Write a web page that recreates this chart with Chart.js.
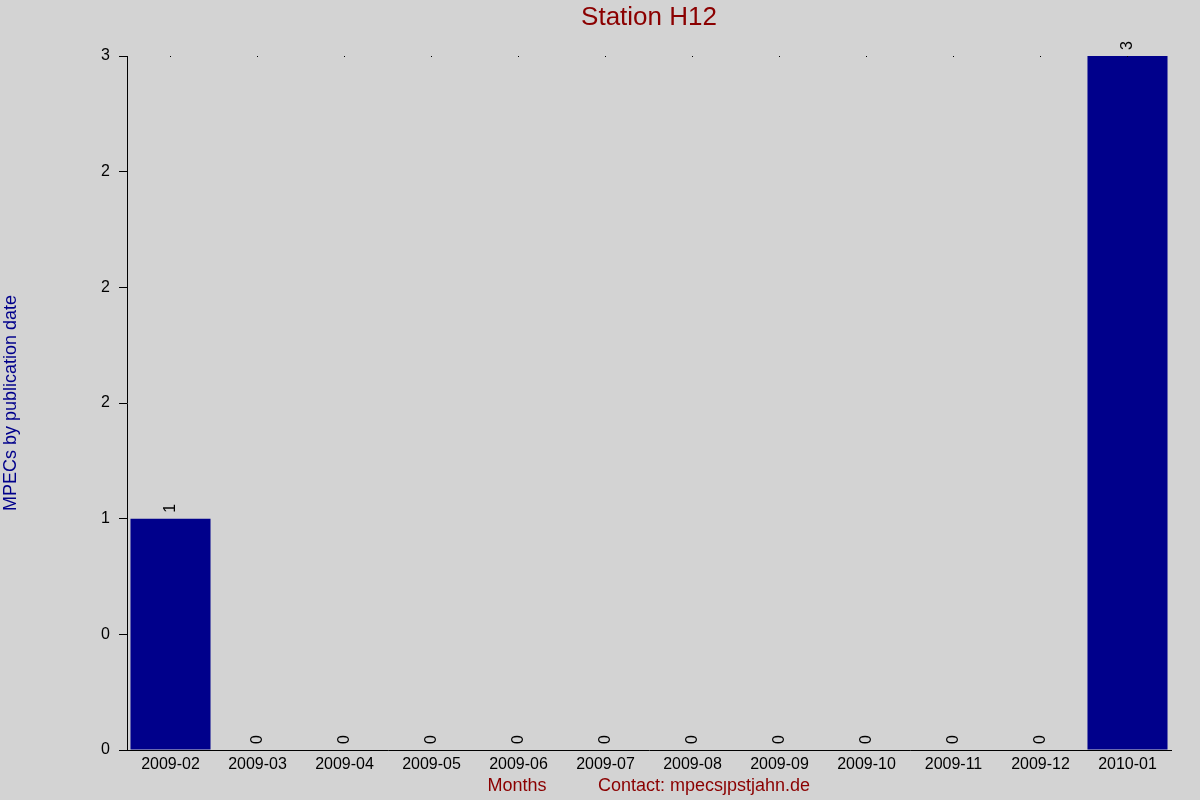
<!DOCTYPE html>
<html>
<head>
<meta charset="utf-8">
<script src="https://cdn.jsdelivr.net/npm/chart.js@4"></script>
<style>
html,body{margin:0;padding:0;background:#d3d3d3;}
#wrap{width:1200px;height:800px;}
</style>
</head>
<body>
<div id="wrap"><canvas id="c" width="1200" height="800"></canvas></div>
<script>
const months = ['2009-02','2009-03','2009-04','2009-05','2009-06','2009-07','2009-08','2009-09','2009-10','2009-11','2009-12','2010-01'];
const mpecs = [1,0,0,0,0,0,0,0,0,0,0,3];
const yTickLabels = ['0','0','1','2','2','2','3'];
const chartTitle = 'Station H12';
const yTitle = 'MPECs by publication date';
const xTitle = 'Months';
const contactText = 'Contact: mpecs\u0237pstjahn.de';

const FONT = '"Liberation Sans", Arial, sans-serif';

const decor = {
  id: 'decor',
  beforeDraw(chart) {
    const ctx = chart.ctx;
    ctx.save();
    ctx.fillStyle = '#d3d3d3';
    ctx.fillRect(0, 0, chart.width, chart.height);
    ctx.restore();
  },
  afterDatasetsDraw(chart) {
    const ctx = chart.ctx;
    const meta = chart.getDatasetMeta(0);
    const xs = chart.scales.x, ys = chart.scales.y;
    ctx.save();
    // top dots
    ctx.fillStyle = '#000';
    const topY = ys.getPixelForValue(ys.max);
    meta.data.forEach((bar, i) => {
      ctx.fillRect(Math.round(xs.getPixelForValue(i)) - 1, Math.round(topY), 1, 1);
    });
    // value labels
    ctx.font = '16px ' + FONT;
    ctx.fillStyle = '#000';
    ctx.textAlign = 'left';
    ctx.textBaseline = 'middle';
    meta.data.forEach((bar, i) => {
      ctx.save();
      ctx.translate(bar.x, bar.y - 6);
      ctx.rotate(-Math.PI / 2);
      ctx.fillText(String(mpecs[i]), 0, 0);
      ctx.restore();
    });
    ctx.restore();
  },
  afterDraw(chart) {
    const ctx = chart.ctx;
    ctx.save();
    ctx.textAlign = 'center';
    ctx.textBaseline = 'middle';
    ctx.fillStyle = '#8b0000';
    ctx.font = '26px ' + FONT;
    ctx.fillText(chartTitle, 649, 18);
    ctx.font = '18px ' + FONT;
    ctx.fillText(xTitle, 517, 786);
    ctx.fillText(contactText, 704, 786);
    ctx.save();
    ctx.translate(11, 403);
    ctx.rotate(-Math.PI / 2);
    ctx.fillStyle = '#00008b';
    ctx.fillText(yTitle, 0, 0);
    ctx.restore();
    ctx.restore();
  }
};

new Chart(document.getElementById('c'), {
  type: 'bar',
  data: {
    labels: months,
    datasets: [{
      data: mpecs,
      backgroundColor: '#00008b',
      borderWidth: 0,
      barPercentage: 0.92,
      categoryPercentage: 1.0
    }]
  },
  options: {
    responsive: false,
    animation: false,
    devicePixelRatio: 1,
    layout: { padding: { left: 0, right: 29, top: 56, bottom: 0 } },
    plugins: { legend: { display: false }, tooltip: { enabled: false }, title: { display: false } },
    scales: {
      x: {
        afterFit(s) { s.height = 50; },
        grid: { display: false, drawTicks: false },
        border: { display: true, color: '#000', width: 1 },
        ticks: { color: '#000', font: { family: FONT, size: 16 }, padding: 5, maxRotation: 0, autoSkip: false }
      },
      y: {
        min: 0, max: 3,
        afterFit(s) { s.width = 127; },
        grid: { display: true, drawOnChartArea: false, drawTicks: true, tickLength: 8, color: '#000' },
        border: { display: true, color: '#000', width: 1 },
        ticks: {
          stepSize: 0.5,
          color: '#000',
          font: { family: FONT, size: 16 },
          padding: 9,
          callback: (v, i) => yTickLabels[i]
        }
      }
    }
  },
  plugins: [decor]
});
</script>
</body>
</html>
